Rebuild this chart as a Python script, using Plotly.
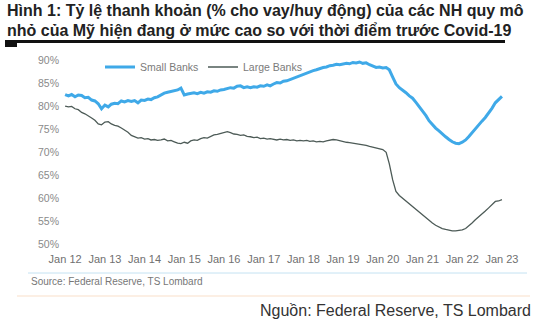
import pandas as pd
import plotly.graph_objects as go

# Monthly observations, Jan 2012 .. Jan 2023 (loan-to-deposit ratio, %)
dates = pd.date_range("2012-01-01", "2023-01-01", freq="MS")

small_banks = [
    82.6, 82.3, 82.6, 82.1, 82.5, 82.4, 81.9, 82.0, 81.4, 81.2, 80.6, 79.5,   # 2012
    80.3, 79.9, 80.5, 80.7, 80.6, 81.2, 81.0, 81.3, 81.1, 81.3, 80.8, 81.4,   # 2013
    81.3, 81.6, 81.5, 81.9, 82.1, 82.5, 82.9, 83.1, 83.3, 83.4, 83.6, 84.0,   # 2014
    82.5, 82.7, 82.9, 83.0, 82.8, 83.1, 82.9, 83.2, 83.1, 83.4, 83.3, 83.6,   # 2015
    83.7, 83.9, 84.1, 84.0, 84.4, 84.5, 84.1, 84.3, 84.1, 84.3, 84.2, 84.5,   # 2016
    84.4, 84.7, 84.5, 84.9, 85.2, 85.1, 85.5, 85.6, 85.9, 86.1, 86.4, 86.8,   # 2017
    87.1, 87.3, 87.5, 87.8, 88.0, 88.3, 88.5, 88.6, 88.9, 89.0, 89.2, 89.1,   # 2018
    89.3, 89.4, 89.3, 89.6, 89.5, 89.7, 89.4, 89.5, 89.1, 88.8, 88.5, 88.6,   # 2019
    88.4, 88.5, 88.0, 86.4, 84.9, 84.1, 83.6, 83.0, 82.3, 81.8, 80.9, 80.0,   # 2020
    79.1, 78.0, 76.9, 76.0, 75.3, 74.7, 74.0, 73.4, 72.8, 72.3, 72.0, 71.9,   # 2021
    72.2, 72.7, 73.4, 74.3, 75.2, 76.0, 76.8, 77.6, 78.5, 79.6, 80.8, 81.6,   # 2022
    82.2,                                                                     # 2023
]

large_banks = [
    80.1, 79.9, 80.0, 79.5, 79.3, 78.7, 78.4, 78.0, 77.5, 77.0, 76.2, 76.0,   # 2012
    76.6, 76.7, 76.2, 75.9, 75.7, 75.3, 74.9, 74.4, 73.7, 73.4, 73.1, 73.2,   # 2013
    72.9, 73.0, 72.7, 72.8, 72.6, 72.7, 72.9, 72.5, 72.6, 72.3, 72.0, 71.9,   # 2014
    72.2, 72.0, 72.5, 72.7, 72.6, 73.0, 73.2, 73.1, 73.5, 73.8, 73.9, 74.1,   # 2015
    74.2, 74.5, 74.3, 74.0, 73.9, 73.7, 73.8, 73.5, 73.4, 73.2, 73.3, 73.0,   # 2016
    73.1, 72.9, 73.0, 72.8, 72.7, 72.9, 72.7, 72.8, 72.6, 72.7, 72.5, 72.6,   # 2017
    72.5, 72.6, 72.4, 72.5, 72.3, 72.4, 72.3, 72.5, 72.6, 72.8, 72.7, 72.5,   # 2018
    72.4, 72.2, 72.1, 72.0, 71.9, 71.7, 71.6, 71.5, 71.3, 71.1, 71.0, 70.8,   # 2019
    70.6, 70.0, 67.5, 64.0, 61.5, 60.6, 60.0, 59.3, 58.7, 58.2, 57.6, 57.0,   # 2020
    56.3, 55.6, 55.1, 54.6, 54.1, 53.7, 53.4, 53.2, 53.0, 52.9, 52.9, 53.0,   # 2021
    53.1, 53.4, 53.9, 54.6, 55.3, 55.9, 56.6, 57.2, 57.9, 58.7, 59.3, 59.4,   # 2022
    59.7,                                                                     # 2023
]

y_ticks = [50, 55, 60, 65, 70, 75, 80, 85, 90]
y_tick_labels = [f"{v}%" for v in y_ticks]
title_line1 = "Hình 1: Tỷ lệ thanh khoản (% cho vay/huy động) của các NH quy mô"
title_line2 = "nhỏ của Mỹ hiện đang ở mức cao so với thời điểm trước Covid-19"
source_in_chart = "Source: Federal Reserve, TS Lombard"
source_footer = "Nguồn: Federal Reserve, TS Lombard"

W, H = 553, 327
ML, MR, MT, MB = 60, 38, 56, 76
PW, PH = W - ML - MR, H - MT - MB


def px(x):
    return (x - ML) / PW


def py(y):
    return (H - MB - y) / PH


FONT = "Liberation Sans, Arial, sans-serif"

fig = go.Figure()
fig.add_trace(go.Scatter(x=dates, y=small_banks, name="Small Banks", mode="lines",
                         line=dict(color="#3fa9e8", width=3)))
fig.add_trace(go.Scatter(x=dates, y=large_banks, name="Large Banks", mode="lines",
                         line=dict(color="#4d5b57", width=1.3)))

fig.update_layout(
    width=W, height=H,
    margin=dict(l=ML, r=MR, t=MT, b=MB),
    paper_bgcolor="white", plot_bgcolor="white",
    font=dict(family=FONT, size=11, color="#777777"),
    showlegend=True,
    legend=dict(orientation="h", x=px(100), y=py(67), xanchor="left", yanchor="middle",
                font=dict(size=10.5, color="#7a7a7a"), bgcolor="rgba(0,0,0,0)",
                itemwidth=30, tracegroupgap=0, entrywidth=58, entrywidthmode="pixels"),
    xaxis=dict(type="date", range=["2011-11-15", "2023-05-01"],
               tickvals=[f"{y}-01-01" for y in range(2012, 2024)],
               tickformat="%b %y", showgrid=False, zeroline=False, showline=False,
               ticks="", tickfont=dict(size=11, color="#707070")),
    yaxis=dict(range=[48.5, 91], tickvals=y_ticks, ticktext=y_tick_labels,
               showgrid=False, zeroline=False, showline=False, ticks="",
               tickfont=dict(size=10.5, color="#8a8a8a")),
)

fig.add_annotation(x=px(5), y=py(11), xref="paper", yref="paper", xanchor="left", yanchor="middle",
                   text=f"<b>{title_line1}</b>", showarrow=False,
                   font=dict(family=FONT, size=16, color="#222222"))
fig.add_annotation(x=px(5), y=py(30), xref="paper", yref="paper", xanchor="left", yanchor="middle",
                   text=f"<b>{title_line2}</b>", showarrow=False,
                   font=dict(family=FONT, size=16, color="#222222"))
fig.add_shape(type="line", xref="paper", yref="paper", x0=px(5), x1=px(505), y0=py(41.5), y1=py(41.5),
              line=dict(color="#111111", width=3))
fig.add_shape(type="rect", xref="paper", yref="paper", x0=px(5), x1=px(17), y0=py(47), y1=py(42),
              line=dict(width=0), fillcolor="#111111")
fig.add_shape(type="line", xref="paper", yref="paper", x0=px(28), x1=px(527), y0=py(273), y1=py(273),
              line=dict(color="#c4e2f2", width=1))
fig.add_annotation(x=px(29), y=py(281), xref="paper", yref="paper", xanchor="left", yanchor="middle",
                   text=source_in_chart, showarrow=False,
                   font=dict(family=FONT, size=10, color="#777777"))
fig.add_shape(type="line", xref="paper", yref="paper", x0=px(17), x1=px(530), y0=py(296), y1=py(296),
              line=dict(color="#fbeadb", width=1.5))
fig.add_annotation(x=px(533), y=py(310), xref="paper", yref="paper", xanchor="right", yanchor="middle",
                   text=source_footer, showarrow=False,
                   font=dict(family=FONT, size=16, color="#333333"))

fig.write_html("out.html")
